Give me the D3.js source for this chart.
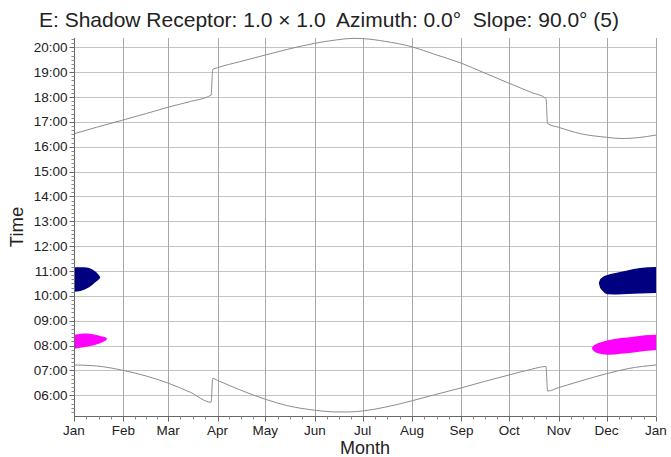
<!DOCTYPE html>
<html>
<head>
<meta charset="utf-8">
<script src="https://cdn.jsdelivr.net/npm/d3@7"></script>
<style>
body { margin: 0; background: #fff; }
text { font-family: "Liberation Sans", Arial, sans-serif; fill: #222; }
</style>
</head>
<body>
<script>
var width = 671, height = 457;

// day of year (0 = Jan 1) and hour of day
var sunsetDay  = [0, 14, 31, 45, 59, 73, 86, 87, 90, 104, 120, 134, 151, 165, 175, 181, 195, 212, 226, 243, 257, 273, 287, 296, 297, 304, 318, 334, 343, 353, 365];
var sunsetHour = [16.52, 16.78, 17.08, 17.33, 17.59, 17.82, 18.08, 19.11, 19.18, 19.42, 19.69, 19.92, 20.16, 20.30, 20.36, 20.35, 20.24, 20.02, 19.72, 19.36, 18.98, 18.55, 18.18, 17.94, 16.93, 16.78, 16.52, 16.38, 16.33, 16.36, 16.47];

var sunriseDay  = [0, 14, 31, 45, 59, 73, 86, 87, 90, 104, 120, 134, 151, 165, 172, 181, 195, 212, 226, 243, 257, 273, 287, 296, 297, 304, 318, 334, 348, 365];
var sunriseHour = [7.22, 7.18, 7.00, 6.78, 6.49, 6.12, 5.72, 6.68, 6.60, 6.22, 5.84, 5.58, 5.40, 5.33, 5.33, 5.37, 5.52, 5.78, 6.02, 6.30, 6.55, 6.82, 7.05, 7.16, 6.17, 6.31, 6.58, 6.87, 7.08, 7.22];

// shadow periods: day, start hour, end hour
var navyJanDay   = [0, 4, 8, 11, 13, 15, 16, 16.4];
var navyJanStart = [10.17, 10.2, 10.3, 10.42, 10.53, 10.63, 10.69, 10.73];
var navyJanEnd   = [11.15, 11.15, 11.14, 11.08, 11.0, 10.88, 10.8, 10.75];

var pinkJanDay   = [0, 6, 11, 14, 17, 19, 20.2, 20.7];
var pinkJanStart = [7.87, 7.93, 7.99, 8.04, 8.11, 8.17, 8.22, 8.27];
var pinkJanEnd   = [8.43, 8.49, 8.47, 8.43, 8.38, 8.35, 8.32, 8.28];

var navyDecDay   = [329.2, 329.8, 331, 335, 341, 347, 355, 365];
var navyDecStart = [10.5, 10.36, 10.24, 10.07, 10.06, 10.08, 10.1, 10.12];
var navyDecEnd   = [10.52, 10.64, 10.73, 10.85, 10.94, 11.02, 11.12, 11.16];

var pinkDecDay   = [324.8, 325.6, 327, 330, 335, 343, 351, 358, 365];
var pinkDecStart = [7.88, 7.8, 7.73, 7.67, 7.63, 7.67, 7.72, 7.78, 7.81];
var pinkDecEnd   = [7.9, 7.98, 8.04, 8.12, 8.21, 8.30, 8.36, 8.42, 8.44];

var monthLabels = ["Jan", "Feb", "Mar", "Apr", "May", "Jun", "Jul", "Aug", "Sep", "Oct", "Nov", "Dec", "Jan"];
var hourTicks = [6, 7, 8, 9, 10, 11, 12, 13, 14, 15, 16, 17, 18, 19, 20];

var start = new Date(2021, 0, 1);
function dayDate(d) { return new Date(start.getTime() + d * 864e5); }

var pLeft = 74, pRight = 656, pTop = 38, pBottom = 416;

var x = d3.scaleTime().domain([start, new Date(2022, 0, 1)]).range([pLeft, pRight]);
var y = d3.scaleLinear().domain([5.167, 20.374]).range([pBottom, pTop]);

var svg = d3.select("body").append("svg")
            .attr("width", width).attr("height", height);

var months = d3.range(13).map(function(i){ return new Date(2021, i, 1); });

// grid
svg.append("g").selectAll("line").data(hourTicks).enter().append("line")
   .attr("x1", pLeft).attr("x2", pRight)
   .attr("y1", function(d){ return Math.round(y(d)) + 0.5; })
   .attr("y2", function(d){ return Math.round(y(d)) + 0.5; })
   .attr("stroke", "#c4c4c4");

svg.append("g").selectAll("line").data(months.slice(1)).enter().append("line")
   .attr("x1", function(d){ return Math.round(x(d)) + 0.5; })
   .attr("x2", function(d){ return Math.round(x(d)) + 0.5; })
   .attr("y1", pTop).attr("y2", pBottom)
   .attr("stroke", "#a8a8a8");

// shadow areas
function drawBlob(days, s, e, color) {
    var pts = days.map(function(d, i){ return {d: d, s: s[i], e: e[i]}; });
    var area = d3.area()
        .x(function(p){ return x(dayDate(p.d)); })
        .y0(function(p){ return y(p.s); })
        .y1(function(p){ return y(p.e); })
        .curve(d3.curveMonotoneX);
    svg.append("path").attr("d", area(pts)).attr("fill", color);
}
drawBlob(navyJanDay, navyJanStart, navyJanEnd, "#000080");
drawBlob(pinkJanDay, pinkJanStart, pinkJanEnd, "#ff00ff");
drawBlob(navyDecDay, navyDecStart, navyDecEnd, "#000080");
drawBlob(pinkDecDay, pinkDecStart, pinkDecEnd, "#ff00ff");

// sun lines
var line = d3.line()
    .x(function(p){ return x(dayDate(p[0])); })
    .y(function(p){ return y(p[1]); })
    .curve(d3.curveMonotoneX);

svg.append("path").attr("d", line(d3.zip(sunsetDay, sunsetHour)))
   .attr("fill", "none").attr("stroke", "#8c8c8c").attr("stroke-width", 1);
svg.append("path").attr("d", line(d3.zip(sunriseDay, sunriseHour)))
   .attr("fill", "none").attr("stroke", "#8c8c8c").attr("stroke-width", 1);

// axes
var yAxis = svg.append("g").attr("transform", "translate(" + (pLeft + 0.5) + ",0)");
yAxis.append("line").attr("y1", pTop).attr("y2", pBottom).attr("stroke", "#666");
var minor = d3.range(Math.ceil(y.domain()[0] * 6), Math.floor(y.domain()[1] * 6) + 1).map(function(v){ return v / 6; });
yAxis.selectAll(".minor").data(minor).enter().append("line")
     .attr("x1", -3).attr("x2", 0)
     .attr("y1", function(d){ return Math.round(y(d)) + 0.5; })
     .attr("y2", function(d){ return Math.round(y(d)) + 0.5; })
     .attr("stroke", "#888");
yAxis.selectAll(".major").data(hourTicks).enter().append("line")
     .attr("x1", -5).attr("x2", 0)
     .attr("y1", function(d){ return Math.round(y(d)) + 0.5; })
     .attr("y2", function(d){ return Math.round(y(d)) + 0.5; })
     .attr("stroke", "#666");
yAxis.selectAll("text").data(hourTicks).enter().append("text")
     .attr("x", -7).attr("y", function(d){ return y(d) + 4.5; })
     .attr("text-anchor", "end").style("font-size", "13.5px")
     .text(function(d){ return d3.format("02d")(d) + ":00"; });

var xAxis = svg.append("g").attr("transform", "translate(0," + (pBottom + 0.5) + ")");
xAxis.append("line").attr("x1", pLeft).attr("x2", pRight).attr("stroke", "#666");
var quarter = [];
months.slice(0, 12).forEach(function(m, i){
    var a = x(m), b = x(months[i + 1]);
    for (var k = 1; k < 4; k++) quarter.push(a + (b - a) * k / 4);
});
xAxis.selectAll(".minor").data(quarter).enter().append("line")
     .attr("x1", function(d){ return Math.round(d) + 0.5; })
     .attr("x2", function(d){ return Math.round(d) + 0.5; })
     .attr("y1", 0).attr("y2", 3).attr("stroke", "#888");
xAxis.selectAll(".major").data(months).enter().append("line")
     .attr("x1", function(d){ return Math.round(x(d)) + 0.5; })
     .attr("x2", function(d){ return Math.round(x(d)) + 0.5; })
     .attr("y1", 0).attr("y2", 5).attr("stroke", "#666");
xAxis.selectAll("text").data(months).enter().append("text")
     .attr("x", function(d){ return x(d); }).attr("y", 18)
     .attr("text-anchor", "middle").style("font-size", "13.5px")
     .text(function(d, i){ return monthLabels[i]; });

// titles
svg.append("text").attr("x", 329).attr("y", 27).attr("text-anchor", "middle")
   .style("font-size", "21px").style("white-space", "pre")
   .text("E: Shadow Receptor: 1.0 \u00d7 1.0  Azimuth: 0.0\u00b0  Slope: 90.0\u00b0 (5)");
svg.append("text").attr("x", 365).attr("y", 454).attr("text-anchor", "middle")
   .style("font-size", "18px").text("Month");
svg.append("text").attr("transform", "translate(23,227) rotate(-90)").attr("text-anchor", "middle")
   .style("font-size", "18.5px").text("Time");
</script>
</body>
</html>
